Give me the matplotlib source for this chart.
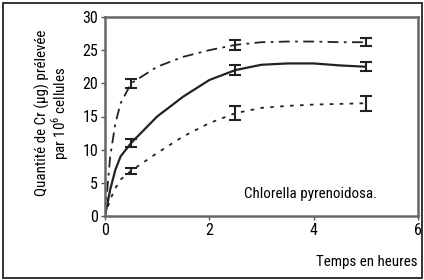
import matplotlib
matplotlib.use("Agg")
import matplotlib.pyplot as plt
from matplotlib.patches import Rectangle

plt.rcParams['font.family'] = ['Roboto Condensed', 'DejaVu Sans']
plt.rcParams['mathtext.fontset'] = 'custom'
plt.rcParams['mathtext.rm'] = 'Roboto Condensed'

# curve points
t_curve = [0, 0.1, 0.2, 0.3, 0.5, 1.0, 1.5, 2.0, 2.5, 3.0, 3.5, 4.0, 4.5, 5.0]
high_curve = [0, 9, 14, 17, 20, 22.5, 24, 25, 25.8, 26.2, 26.3, 26.3, 26.2, 26.2]
mid_curve = [0, 4, 7, 9, 11, 15, 18, 20.5, 22, 22.8, 23, 23, 22.7, 22.5]
low_curve = [0, 2.5, 4.2, 5.5, 6.8, 9.5, 12, 14, 15.5, 16.3, 16.6, 16.8, 16.9, 17]

# measured points with error bars
t_pts = [0.5, 2.5, 5.0]
high_pts = [20, 25.8, 26.2]
high_err = [0.7, 0.7, 0.6]
mid_pts = [11, 22, 22.5]
mid_err = [0.6, 0.7, 0.7]
low_pts = [6.8, 15.5, 17]
low_err = [0.4, 1.1, 1.1]

xticks = [0, 2, 4, 6]
yticks = [0, 5, 10, 15, 20, 25, 30]

fig = plt.figure(figsize=(4.24, 2.8), dpi=100)
fig.patches.append(Rectangle((3/424, 2/280), 419/424, 275/280, transform=fig.transFigure,
                             fill=False, edgecolor='#333333', linewidth=1.4))
ax = fig.add_axes([105/424, 1-216/280, 313/424, 199/280])

col = '#222222'
ax.plot(t_curve, high_curve, color=col, lw=1.3, dashes=(6, 3, 1.5, 3))
ax.plot(t_curve, mid_curve, color=col, lw=1.6)
ax.plot(t_curve, low_curve, color=col, lw=1.3, dashes=(2, 3.5))

for y, e in ((high_pts, high_err), (mid_pts, mid_err), (low_pts, low_err)):
    ax.errorbar(t_pts, y, yerr=e, fmt='none', ecolor=col, elinewidth=1.5, capsize=4, capthick=1.5)

ax.set_xlim(0, 6)
ax.set_ylim(0, 30)
ax.set_xticks(xticks)
ax.set_yticks(yticks)
ax.tick_params(labelsize=11.5, length=3, width=1, color='#555555', pad=2)
for s in ax.spines.values():
    s.set_color('#666666')
    s.set_linewidth(1.8)

fig.text(377/424, 1-194/280, 'Chlorella pyrenoidosa.', ha='right', va='center', fontsize=10.8)
fig.text(418/424, 1-262/280, 'Temps en heures', ha='right', va='center', fontsize=10.8)
fig.text(53/424, 1-113/280, 'Quantité de Cr (µg) prélevée\npar 10$^6$ cellules', ha='center', va='center',
         rotation=90, fontsize=10.8, linespacing=1.0)

fig.savefig('out.png', dpi=100)
